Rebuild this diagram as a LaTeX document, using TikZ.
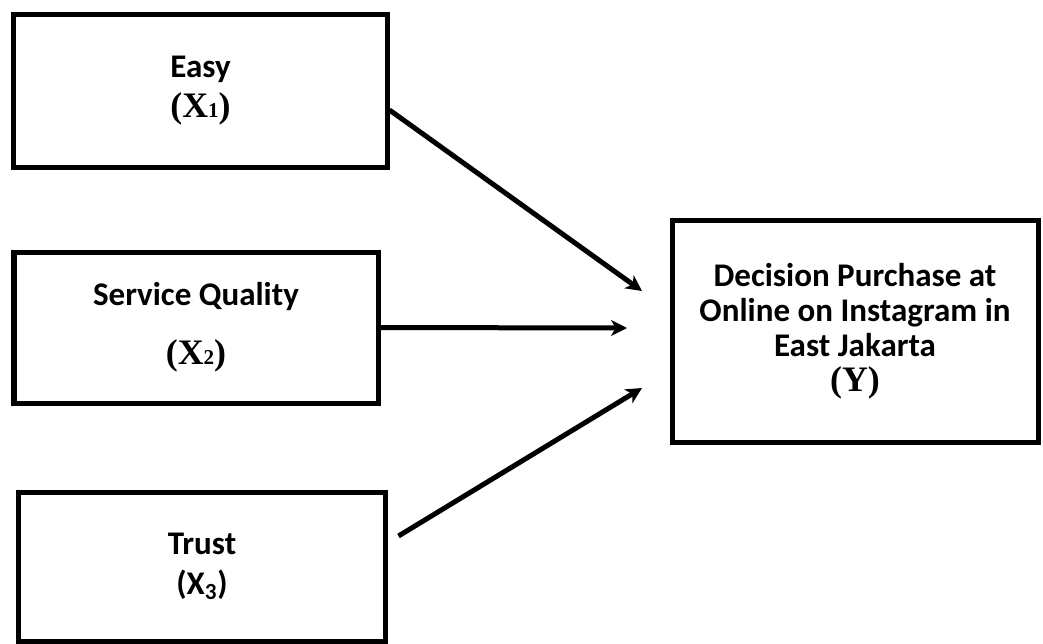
\documentclass[tikz,border=0pt]{standalone}
\usepackage{fontspec}
\usepackage{tikz}
\usetikzlibrary{arrows.meta}
\newfontfamily\lblfont{Carlito}
\newfontfamily\varfont{Liberation Serif}

\newcommand{\varlbl}[1]{{\varfont\bfseries\fontsize{20.4}{20}\selectfont (X{\fontsize{12}{12}\selectfont #1})}}

\begin{document}
\begin{tikzpicture}[
        varbox/.style={rectangle, draw, line width=0.1cm, inner sep=0pt,
            align=center, font=\lblfont\bfseries\fontsize{18.8}{22.5}\selectfont},
        >={Stealth[length=9pt,width=9pt,inset=2.5pt]},
        every path/.style={line width=0.1cm}
    ]
        \useasboundingbox (0,0) rectangle (20.86,-12.86);

        \node[varbox, minimum width=7.46cm, minimum height=3.06cm] (easy) at (4.01,-1.81)
            {Easy\\\varlbl{1}};
        \node[varbox, minimum width=7.28cm, minimum height=3.02cm] (quality) at (3.92,-6.55)
            {Service Quality\\[11pt]\varlbl{2}};
        \node[varbox, minimum width=7.32cm, minimum height=2.98cm] (trust) at (4.04,-11.33)
            {Trust\\(X\textsubscript{3})};
        \node[varbox, minimum width=7.32cm, minimum height=4.44cm,
            font=\lblfont\bfseries\fontsize{18.8}{20}\selectfont] (decision) at (17.1,-6.62)
            {Decision Purchase at\\Online on Instagram in\\East Jakarta\\
             {\varfont\bfseries\fontsize{20.4}{20}\selectfont (Y)}};

        \coordinate (tipA) at (12.84,-5.82);
        \coordinate (tipB) at (12.54,-6.56);
        \coordinate (tipC) at (12.84,-7.76);

        \draw[->] ([yshift=-0.39cm]easy.east) -- (tipA);
        \draw[->] (quality.east) -- (tipB);
        \draw[->] ([xshift=0.22cm,yshift=0.61cm]trust.east) -- (tipC);
    \end{tikzpicture}
\end{document}
